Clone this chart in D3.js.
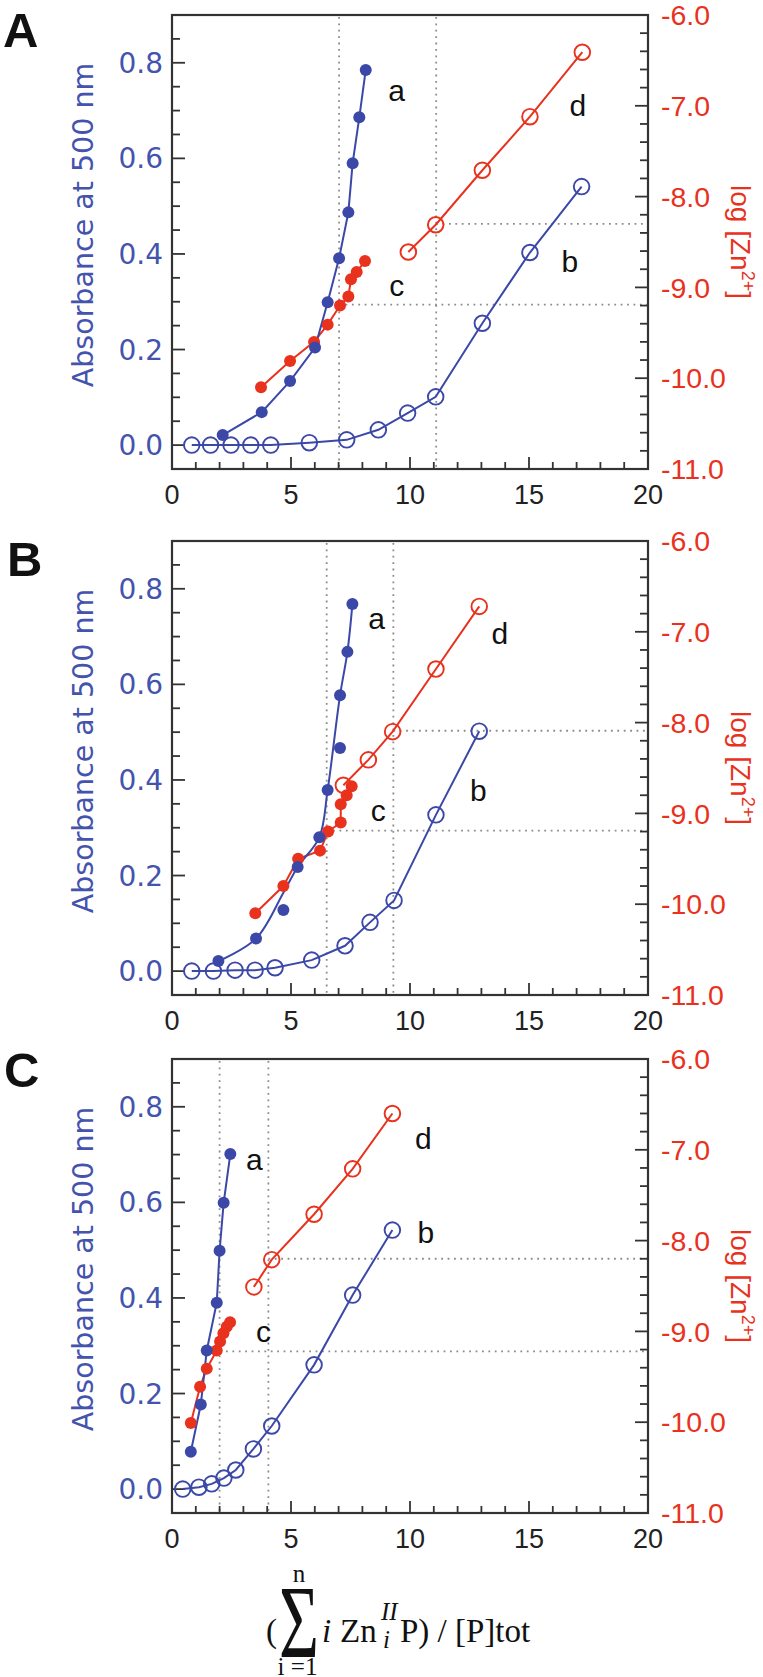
<!DOCTYPE html>
<html><head><meta charset="utf-8">
<script src="https://cdn.jsdelivr.net/npm/d3@7"></script>
<style>body{margin:0;background:#fff} svg{display:block}</style>
</head><body><svg id="chart" width="763" height="1677"></svg>
<script>
// ---------- data ----------
const xTicks = [0, 5, 10, 15, 20];
const absTicks = [0.0, 0.2, 0.4, 0.6, 0.8];
const logTicks = [-6, -7, -8, -9, -10, -11];
const panelLetters = ["A", "B", "C"];
const curveNames = ["a", "b", "c", "d"];

// Panel A (a,b on absorbance axis; c,d on log[Zn2+] axis)
const A_a = [[2.13,0.021],[3.77,0.069],[4.96,0.134],[6.01,0.204],[6.54,0.299],[7.02,0.391],[7.41,0.487],[7.59,0.590],[7.87,0.686],[8.14,0.785]];
const A_b = [[0.83,0.0],[1.62,0.0],[2.48,0.0],[3.31,0.0],[4.15,0.0],[5.77,0.005],[7.34,0.011],[8.67,0.032],[9.90,0.067],[11.08,0.101],[13.04,0.255],[15.04,0.403],[17.21,0.541]];
const A_c = [[3.74,-10.10],[4.96,-9.81],[5.97,-9.60],[6.54,-9.41],[7.06,-9.20],[7.41,-9.10],[7.52,-8.91],[7.76,-8.83],[8.11,-8.71]];
const A_d = [[9.93,-8.61],[11.08,-8.31],[13.04,-7.71],[15.04,-7.12],[17.24,-6.41]];
const A_vGuides = [7.02, 11.1];
const A_hGuides = [-9.19, -8.30];
const A_labelPos = [[9.44,0.743],[16.72,0.384],[9.44,0.335],[17.05,0.710]];

// Panel B
const B_a = [[1.95,0.021],[3.53,0.068],[4.68,0.128],[5.28,0.218],[6.19,0.280],[6.54,0.379],[7.06,0.467],[7.06,0.577],[7.37,0.668],[7.58,0.768]];
const B_aFit = [[1.95,0.021],[3.53,0.068],[4.68,0.164],[5.28,0.218],[6.19,0.280],[6.54,0.379],[7.06,0.577],[7.37,0.668],[7.58,0.768]];
const B_b = [[0.83,0.0],[1.74,0.0],[2.65,0.002],[3.49,0.002],[4.33,0.007],[5.87,0.023],[7.27,0.053],[8.32,0.102],[9.33,0.148],[11.09,0.327],[12.91,0.502]];
const B_c = [[3.50,-10.10],[4.68,-9.80],[5.30,-9.50],[6.22,-9.41],[6.56,-9.20],[7.09,-9.10],[7.09,-8.90],[7.34,-8.80],[7.55,-8.70]];
const B_d = [[7.20,-8.69],[8.25,-8.41],[9.27,-8.10],[11.09,-7.41],[12.91,-6.72]];
const B_vGuides = [6.5, 9.3];
const B_hGuides = [-9.19, -8.09];
const B_labelPos = [[8.60,0.738],[12.87,0.378],[8.67,0.336],[13.78,0.706]];

// Panel C
const C_a = [[0.79,0.078],[1.21,0.177],[1.46,0.290],[1.88,0.390],[2.00,0.499],[2.17,0.599],[2.45,0.701]];
const C_b = [[0.45,0.0],[1.13,0.004],[1.67,0.011],[2.18,0.023],[2.68,0.040],[3.42,0.084],[4.19,0.132],[5.97,0.260],[7.59,0.406],[9.26,0.542]];
const C_c = [[0.79,-10.01],[1.18,-9.61],[1.46,-9.41],[1.88,-9.21],[2.02,-9.11],[2.16,-9.02],[2.30,-8.95],[2.44,-8.90]];
const C_d = [[3.44,-8.51],[4.19,-8.21],[5.97,-7.71],[7.59,-7.21],[9.26,-6.60]];
const C_vGuides = [2.0, 4.05];
const C_hGuides = [-9.22, -8.20];
const C_labelPos = [[3.46,0.689],[10.67,0.537],[3.84,0.329],[10.56,0.734]];

const panels = [
  {a:A_a, aLine:A_a, b:A_b, c:A_c, d:A_d, v:A_vGuides, h:A_hGuides, lab:A_labelPos, smooth:false},
  {a:B_a, aLine:B_aFit, b:B_b, c:B_c, d:B_d, v:B_vGuides, h:B_hGuides, lab:B_labelPos, smooth:true},
  {a:C_a, aLine:C_a, b:C_b, c:C_c, d:C_d, v:C_vGuides, h:C_hGuides, lab:C_labelPos, smooth:false}
];

// ---------- layout ----------
const BLUE = "#3b48a8", BLUE_T = "#4453ad", RED = "#e8321e", GUIDE = "#8c8c8c";
const L = 172, R = 648, H = 454;
const tops = [15, 541, 1059];
const letterPos = [[3,47],[7,576],[4,1087]];

const svg = d3.select("#chart");
const x = d3.scaleLinear().domain([0,20]).range([L,R]);

panels.forEach((p, i) => {
  const top = tops[i], bot = top + H;
  const yL = d3.scaleLinear().domain([-0.05,0.9]).range([bot, top]);
  const yR = d3.scaleLinear().domain([-11,-6]).range([bot, top]);
  const g = svg.append("g");

  // guides
  p.v.forEach(v => g.append("line").attr("x1",x(v)).attr("x2",x(v)).attr("y1",top+2).attr("y2",bot-1)
     .attr("stroke",GUIDE).attr("stroke-width",1.8).attr("stroke-dasharray","1.8,4.6"));
  p.h.forEach((h,k) => g.append("line").attr("x1",x(p.v[k])).attr("x2",R-1).attr("y1",yR(h)).attr("y2",yR(h))
     .attr("stroke",GUIDE).attr("stroke-width",1.8).attr("stroke-dasharray","1.8,4.6"));

  // ticks
  const tk = g.append("g").attr("stroke","#333").attr("stroke-width",1.8);
  d3.range(0,21,1).forEach(t => {
    const len = (t % 5 === 0) ? 12 : 7;
    tk.append("line").attr("x1",x(t)).attr("x2",x(t)).attr("y1",bot).attr("y2",bot-len);
  });
  d3.range(-1,19).map(k => k*0.05).forEach(t => {
    const major = Math.abs(Math.round(t*100) % 20) === 0;
    tk.append("line").attr("x1",L).attr("x2",L+(major?13:8)).attr("y1",yL(t)).attr("y2",yL(t));
  });
  d3.range(0,26).map(k => -11 + k*0.2).forEach(t => {
    const major = Math.abs(t - Math.round(t)) < 1e-6;
    tk.append("line").attr("x1",R).attr("x2",R-(major?13:8)).attr("y1",yR(t)).attr("y2",yR(t));
  });

  // frame
  g.append("rect").attr("x",L).attr("y",top).attr("width",R-L).attr("height",H)
   .attr("fill","none").attr("stroke","#333").attr("stroke-width",2.2);

  // tick labels
  xTicks.forEach(t => g.append("text").attr("x",x(t)).attr("y",bot+26).attr("dy","0.35em")
    .attr("text-anchor","middle").attr("font-family","Liberation Sans, Arial, sans-serif")
    .attr("font-size",27).attr("fill","#222").text(t));
  absTicks.forEach(t => g.append("text").attr("x",163).attr("y",yL(t)).attr("dy","0.36em")
    .attr("text-anchor","end").attr("font-family","DejaVu Sans, sans-serif")
    .attr("font-size",28).attr("fill",BLUE_T).text(t.toFixed(1)));
  logTicks.forEach(t => g.append("text").attr("x",661).attr("y",yR(t)).attr("dy","0.36em")
    .attr("text-anchor","start").attr("font-family","Liberation Sans, Arial, sans-serif")
    .attr("font-size",28.5).attr("fill",RED).text(t.toFixed(1)));

  // axis titles
  g.append("text").attr("transform",`translate(93,${top+H/2-17}) rotate(-90)`)
   .attr("text-anchor","middle").attr("font-family","DejaVu Sans, sans-serif")
   .attr("font-size",28.5).attr("fill",BLUE_T).text("Absorbance at 500 nm");
  const rt = g.append("text").attr("transform",`translate(731,${top+H/2}) rotate(90)`)
   .attr("text-anchor","middle").attr("font-family","Liberation Sans, Arial, sans-serif")
   .attr("font-size",28).attr("fill",RED);
  rt.append("tspan").text("log [Zn");
  rt.append("tspan").attr("dy",-11).attr("font-size",18).text("2+");
  rt.append("tspan").attr("dy",11).text("]");

  // series lines
  const lineL = d3.line().x(d=>x(d[0])).y(d=>yL(d[1]));
  const lineR = d3.line().x(d=>x(d[0])).y(d=>yR(d[1]));
  const lineLs = d3.line().x(d=>x(d[0])).y(d=>yL(d[1])).curve(d3.curveCatmullRom.alpha(0.5));
  g.append("path").attr("d",lineL(p.b)).attr("fill","none").attr("stroke",BLUE).attr("stroke-width",2);
  g.append("path").attr("d",lineR(p.d)).attr("fill","none").attr("stroke",RED).attr("stroke-width",2);
  g.append("path").attr("d",lineR(p.c)).attr("fill","none").attr("stroke",RED).attr("stroke-width",2);
  g.append("path").attr("d",(p.smooth?lineLs:lineL)(p.aLine)).attr("fill","none").attr("stroke",BLUE).attr("stroke-width",2);

  // markers
  g.selectAll(null).data(p.b).join("circle").attr("cx",d=>x(d[0])).attr("cy",d=>yL(d[1])).attr("r",7.8)
   .attr("fill","none").attr("stroke",BLUE).attr("stroke-width",1.9);
  g.selectAll(null).data(p.d).join("circle").attr("cx",d=>x(d[0])).attr("cy",d=>yR(d[1])).attr("r",7.8)
   .attr("fill","none").attr("stroke",RED).attr("stroke-width",1.9);
  g.selectAll(null).data(p.c).join("circle").attr("cx",d=>x(d[0])).attr("cy",d=>yR(d[1])).attr("r",6).attr("fill",RED);
  g.selectAll(null).data(p.a).join("circle").attr("cx",d=>x(d[0])).attr("cy",d=>yL(d[1])).attr("r",6).attr("fill",BLUE);

  // curve labels
  curveNames.forEach((n,k) => g.append("text").attr("x",x(p.lab[k][0])).attr("y",yL(p.lab[k][1])).attr("dy","0.35em")
    .attr("text-anchor","middle").attr("font-family","Liberation Sans, Arial, sans-serif")
    .attr("font-size",30).attr("fill","#111").text(n));

  // panel letter
  svg.append("text").attr("x",letterPos[i][0]).attr("y",letterPos[i][1])
   .attr("font-family","Liberation Sans, Arial, sans-serif").attr("font-weight",700)
   .attr("font-size",49).attr("fill","#111").text(panelLetters[i]);
});

// ---------- x-axis title ----------
const serif = "Liberation Serif, Times New Roman, serif";
const xt = svg.append("g").attr("font-family",serif).attr("fill","#111");
xt.append("text").attr("x",266).attr("y",1642).attr("font-size",33).text("(");
xt.append("text").attr("transform","translate(279,1657) scale(0.66,1)").attr("font-size",104).text("\u03A3");
xt.append("text").attr("x",299).attr("y",1582).attr("text-anchor","middle").attr("font-size",25).text("n");
xt.append("text").attr("x",297.5).attr("y",1675).attr("text-anchor","middle").attr("font-size",25).text("i =1");
xt.append("text").attr("x",322).attr("y",1642).attr("font-size",33).attr("font-style","italic").text("i");
xt.append("text").attr("x",340).attr("y",1642).attr("font-size",33).text("Zn");
xt.append("text").attr("x",381).attr("y",1620).attr("font-size",25).attr("font-style","italic").text("II");
xt.append("text").attr("x",383).attr("y",1648).attr("font-size",25).attr("font-style","italic").text("i");
xt.append("text").attr("x",400).attr("y",1642).attr("font-size",33).text("P) / [P]tot");
</script></body></html>
